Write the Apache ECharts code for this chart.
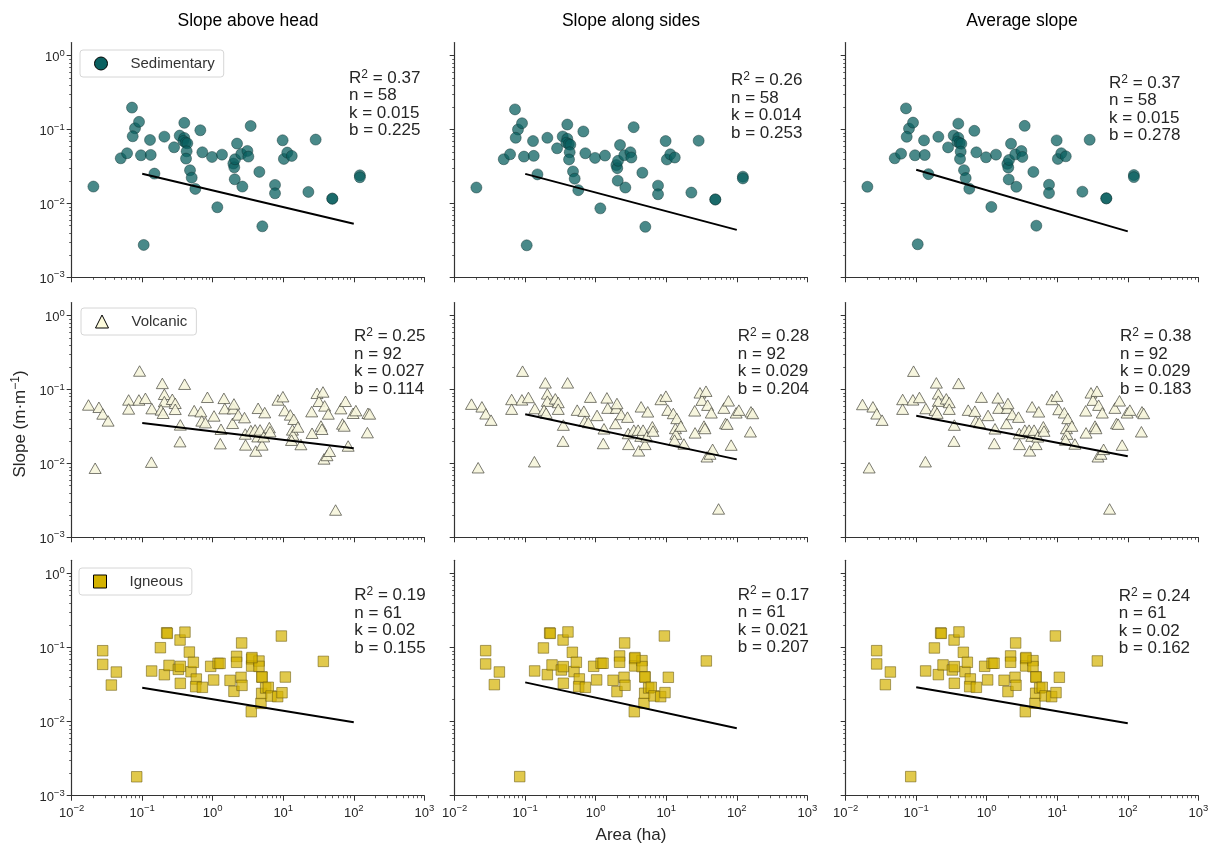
<!DOCTYPE html>
<html><head><meta charset="utf-8">
<script src="https://cdn.jsdelivr.net/npm/echarts@6/dist/echarts.min.js"></script>
<style>html,body{margin:0;padding:0;background:#fff}#c{width:1219px;height:845px}</style>
</head><body><div id="c"></div>
<script>
// ---------------- data ----------------
const columnTitles = ['Slope above head', 'Slope along sides', 'Average slope'];
const groupNames = ['Sedimentary', 'Volcanic', 'Igneous'];
const xTickValues = [0.01, 0.1, 1, 10, 100, 1000];
const yTickValues = [0.001, 0.01, 0.1, 1];
const xAxisTitle = 'Area (ha)';
const yAxisTitleParts = ['Slope (m\u00b7m', '\u22121', ')'];

const sedArea = [0.0203,0.0496,0.061,0.0716,0.079,0.0733,0.0901,0.096,0.105,0.129,0.132,0.149,0.206,0.283,0.340,0.395,0.395,0.383,0.413,0.436,0.427,0.418,0.476,0.503,0.566,0.667,0.712,0.977,1.162,1.353,1.96,2.02,2.07,2.05,2.21,2.63,2.54,3.10,3.20,3.45,4.58,5.05,7.64,7.64,9.80,10.2,11.4,13.2,22.7,28.8,49.6,49.6,122,122];
const sedHead = [0.0169,0.0408,0.0477,0.198,0.104,0.081,0.127,0.0448,0.00274,0.0722,0.0453,0.0253,0.080,0.0575,0.0827,0.123,0.0769,0.070,0.0665,0.0651,0.0507,0.0404,0.0281,0.0223,0.0157,0.0977,0.0492,0.0425,0.00887,0.0457,0.0346,0.0308,0.0396,0.0212,0.0645,0.0169,0.0467,0.0513,0.0430,0.1117,0.0267,0.0049,0.0178,0.0137,0.0715,0.040,0.0487,0.0439,0.0143,0.073,0.0116,0.0116,0.024,0.0226];
const sedSides = [0.0164,0.0396,0.0462,0.187,0.100,0.0773,0.1216,0.0430,0.00271,0.0698,0.0440,0.0247,0.0773,0.0557,0.0806,0.1167,0.075,0.0663,0.0636,0.0623,0.0492,0.0393,0.0271,0.0216,0.0151,0.094,0.0477,0.0413,0.00857,0.0444,0.033,0.030,0.0377,0.0203,0.0617,0.0164,0.0449,0.0492,0.0418,0.1075,0.026,0.00482,0.0174,0.0133,0.0698,0.0393,0.0462,0.0418,0.014,0.0705,0.0113,0.0113,0.023,0.0218];
const sedAvg = [0.0168,0.0408,0.0471,0.193,0.103,0.0797,0.124,0.0448,0.0028,0.0712,0.0452,0.0249,0.0797,0.0573,0.083,0.120,0.0773,0.0683,0.0656,0.0642,0.0501,0.040,0.0282,0.022,0.0158,0.096,0.0491,0.0421,0.00897,0.0457,0.0343,0.0306,0.0387,0.0211,0.0642,0.0168,0.0461,0.0512,0.0425,0.112,0.0267,0.00499,0.0179,0.0138,0.0712,0.040,0.0477,0.0434,0.0144,0.0726,0.0117,0.0117,0.0242,0.0227];

const volArea = [0.0173,0.0243,0.0276,0.0328,0.0215,0.0642,0.0642,0.0917,0.0897,0.111,0.137,0.135,0.193,0.206,0.206,0.185,0.198,0.267,0.294,0.294,0.347,0.343,0.399,0.546,0.678,0.700,0.788,0.841,1.044,1.31,1.28,1.44,1.48,1.91,1.96,2.0,2.30,2.82,2.89,2.92,3.47,3.99,4.40,4.35,4.69,4.07,5.01,5.28,5.46,6.35,6.49,8.41,9.89,10.5,12.6,13.5,13.7,14.1,13.1,16.1,17.8,25.3,25.6,30.1,32.1,34.3,35.4,36.6,38.6,37.8,41.7,43.5,45.4,55.2,65.6,69.2,73.1,76.3,83.2,97.9,107,156,159,168];
const volHead = [0.0618,0.0575,0.0467,0.0376,0.0086,0.0722,0.0546,0.178,0.0722,0.076,0.0551,0.0104,0.121,0.0862,0.0686,0.053,0.0477,0.0738,0.0651,0.054,0.0332,0.0197,0.118,0.0518,0.0502,0.0376,0.0356,0.0785,0.0439,0.029,0.0185,0.076,0.0551,0.0349,0.0551,0.0638,0.0453,0.0417,0.025,0.0178,0.0278,0.0284,0.0557,0.023,0.0284,0.0147,0.0178,0.023,0.0487,0.0305,0.0269,0.0722,0.080,0.0518,0.0453,0.0284,0.0243,0.0396,0.0206,0.0311,0.018,0.0502,0.0256,0.0889,0.0693,0.0321,0.029,0.0927,0.060,0.0115,0.0128,0.0467,0.0146,0.00234,0.0551,0.0342,0.0321,0.0693,0.0172,0.0477,0.0518,0.0261,0.0477,0.0467];
const volSides = [0.0634,0.0583,0.0469,0.0385,0.00874,0.0733,0.0542,0.177,0.0725,0.078,0.0553,0.01054,0.123,0.0874,0.0696,0.0526,0.0479,0.0748,0.0668,0.0542,0.033,0.02,0.123,0.0526,0.0509,0.0373,0.0358,0.0788,0.0446,0.0294,0.0186,0.0771,0.056,0.0347,0.056,0.0647,0.0459,0.0423,0.0254,0.0181,0.0282,0.0282,0.0583,0.0234,0.0282,0.0148,0.0181,0.0229,0.0499,0.0313,0.0274,0.0733,0.0813,0.0526,0.0474,0.0297,0.0249,0.0406,0.0207,0.032,0.0183,0.0515,0.0259,0.0902,0.0718,0.032,0.0297,0.0949,0.0614,0.0123,0.0134,0.0484,0.0155,0.00242,0.056,0.0347,0.034,0.0703,0.0177,0.0484,0.0526,0.0268,0.0499,0.0474];
const volAvg = [0.0627,0.0583,0.0469,0.0385,0.00874,0.0733,0.0542,0.177,0.0725,0.078,0.0553,0.01054,0.123,0.0874,0.0696,0.0526,0.0479,0.0748,0.0668,0.0542,0.033,0.02,0.121,0.0526,0.0509,0.0373,0.0358,0.0788,0.0446,0.0294,0.0186,0.0771,0.056,0.0347,0.056,0.0647,0.0459,0.0423,0.0254,0.0181,0.0282,0.0282,0.0583,0.0234,0.0282,0.0148,0.0181,0.0229,0.0499,0.0313,0.0274,0.0733,0.0813,0.0537,0.0484,0.0297,0.0249,0.0406,0.0207,0.032,0.0183,0.0515,0.0259,0.0902,0.0718,0.032,0.0297,0.0949,0.0614,0.0123,0.0134,0.0484,0.0155,0.00242,0.056,0.0347,0.034,0.0703,0.0177,0.0484,0.0526,0.0268,0.0499,0.0474];

const ignArea = [0.0275,0.0275,0.0365,0.0430,0.0836,0.136,0.181,0.206,0.222,0.227,0.240,0.344,0.325,0.347,0.347,0.404,0.466,0.492,0.531,0.585,0.573,0.713,0.935,1.03,1.19,1.27,1.76,2.0,2.18,2.18,2.52,2.60,2.57,3.56,3.56,3.52,4.53,4.53,4.99,4.99,4.83,4.94,5.63,6.13,6.70,8.33,9.6,9.4,10.7,37.0,3.6];
const ignHead = [0.0904,0.0591,0.0311,0.0466,0.0018,0.0481,0.0993,0.0429,0.158,0.155,0.0573,0.126,0.0506,0.0556,0.0328,0.161,0.0867,0.0471,0.063,0.0375,0.0296,0.029,0.0556,0.0364,0.061,0.061,0.036,0.0256,0.0758,0.063,0.0395,0.0308,0.115,0.0698,0.0561,0.0136,0.0656,0.0556,0.0399,0.0399,0.0176,0.024,0.0284,0.029,0.0221,0.0217,0.0245,0.1426,0.0399,0.0649,0.073];
const ignSides = [0.0906,0.0599,0.0315,0.0467,0.00181,0.0482,0.0985,0.043,0.157,0.155,0.0581,0.126,0.0497,0.0552,0.0329,0.162,0.0861,0.0472,0.0631,0.0376,0.0296,0.029,0.0557,0.0365,0.0612,0.0612,0.0361,0.0254,0.0768,0.0631,0.0396,0.0309,0.115,0.0707,0.0563,0.0136,0.0664,0.0552,0.040,0.040,0.0177,0.0241,0.0284,0.029,0.0222,0.0217,0.0246,0.1429,0.0396,0.0658,0.073];
const ignAvg = [0.0906,0.0599,0.0315,0.0467,0.00181,0.0482,0.0985,0.043,0.157,0.155,0.0581,0.126,0.0497,0.0552,0.0329,0.162,0.0861,0.0472,0.0631,0.0376,0.0296,0.029,0.0557,0.0365,0.0612,0.0612,0.0361,0.0254,0.0768,0.0631,0.0396,0.0309,0.115,0.0707,0.0563,0.0136,0.0664,0.0552,0.040,0.040,0.0177,0.0241,0.0284,0.029,0.0222,0.0217,0.0246,0.1429,0.0396,0.0658,0.073];

// fitted power-law lines (panel order: row by row)
const fitArea = [0.1, 100];
const fitStart = [0.0252,0.0251,0.0285, 0.0351,0.0463,0.0442, 0.0286,0.0338,0.029];
const fitEnd   = [0.00532,0.00438,0.00418, 0.0160,0.01134,0.01249, 0.0098,0.00811,0.00949];
const statR2 = ['0.37','0.26','0.37','0.25','0.28','0.38','0.19','0.17','0.24'];
const statN  = ['58','58','58','92','92','92','61','61','61'];
const statK  = ['0.015','0.014','0.015','0.027','0.029','0.029','0.02','0.021','0.02'];
const statB  = ['0.225','0.253','0.278','0.114','0.204','0.183','0.155','0.207','0.162'];

// ---------------- layout / style ----------------
const FONT = '"Liberation Sans", Arial, sans-serif';
const TXT = '#262626';
const AX = '#333333';
const colLeft = [71.7, 454.7, 845.7];
const plotWidth = 352.6;
const rowTop = [42.6, 302.6, 560.3];
const rowHeight = [234.7, 234.7, 235.4];
const yMax = 1.5;
const annoPos = [[349,78.3],[731,80.7],[1109,83.3],[354,336.7],[737.7,336.7],[1120,336.7],[354.3,595.7],[737.7,595],[1118.7,596.3]];
const annoStep = 17.5;

const groupData = [
  {area: sedArea, cols: [sedHead, sedSides, sedAvg]},
  {area: volArea, cols: [volHead, volSides, volAvg]},
  {area: ignArea, cols: [ignHead, ignSides, ignAvg]}
];
const groupStyle = [
  {symbol: 'circle', size: 11, item: {color: '#0a6060', opacity: 0.74, borderColor: '#103030', borderWidth: 0.6},
   legendIcon: 'circle', legendItem: {color: '#0a6060', borderColor: '#000', borderWidth: 1, opacity: 1}, legendPos: [80, 50]},
  {symbol: 'triangle', size: [12, 10.5], item: {color: '#f6f5dc', opacity: 0.9, borderColor: '#4a4a40', borderWidth: 0.8},
   legendIcon: 'triangle', legendItem: {color: '#fdfbdc', borderColor: '#000', borderWidth: 1, opacity: 1}, legendPos: [81, 308]},
  {symbol: 'rect', size: 10.5, item: {color: '#d4b200', opacity: 0.7, borderColor: '#6a5a10', borderWidth: 0.8},
   legendIcon: 'rect', legendItem: {color: '#d4b200', borderColor: '#000', borderWidth: 1, opacity: 1}, legendPos: [79, 568]}
];

function range(a, b) { const r = []; for (let i = a; i <= b; i++) r.push(i); return r; }
const xMinor = [], yMinor = [];
range(-2, 2).forEach(e => range(2, 9).forEach(m => xMinor.push(+(m * Math.pow(10, e)).toPrecision(3))));
range(-3, -1).forEach(e => range(2, 9).forEach(m => yMinor.push(+(m * Math.pow(10, e)).toPrecision(3))));

function powLabel(v) {
  const e = Math.round(Math.log10(v));
  return '{b|10}{s|' + (e < 0 ? '\u2212' + (-e) : String(e)) + '}';
}
const labelRich = {
  b: {fontSize: 13, lineHeight: 15, padding: [4, 0, 0, 0], color: TXT, fontFamily: FONT},
  s: {fontSize: 9.5, lineHeight: 10, verticalAlign: 'top', color: TXT, fontFamily: FONT}
};
const annoRich = {
  r: {fontSize: 17, lineHeight: 20, fill: TXT, color: TXT, fontFamily: FONT},
  s: {fontSize: 12, lineHeight: 12, verticalAlign: 'top', fill: TXT, color: TXT, fontFamily: FONT}
};
const titleRich = {
  t: {fontSize: 17, lineHeight: 20, fill: TXT, color: TXT, fontFamily: FONT},
  s: {fontSize: 12, lineHeight: 12, verticalAlign: 'top', fill: TXT, color: TXT, fontFamily: FONT}
};

const grids = [], xAxes = [], yAxes = [], series = [], legends = [], graphics = [];
for (let i = 0; i < 9; i++) {
  const r = Math.floor(i / 3), c = i % 3;
  grids.push({left: colLeft[c], top: rowTop[r], width: plotWidth, height: rowHeight[r], containLabel: false, outerBoundsMode: 'none'});
}
for (let i = 0; i < 9; i++) {
  const r = Math.floor(i / 3), c = i % 3;
  xAxes.push({type: 'log', logBase: 10, gridIndex: i, min: 0.01, max: 1000, position: 'bottom',
    axisLine: {show: true, onZero: false, lineStyle: {color: AX, width: 1.2}},
    axisTick: {show: true, length: 5, customValues: xTickValues, lineStyle: {color: AX, width: 1}},
    axisLabel: {show: r === 2, customValues: xTickValues, formatter: powLabel, margin: 8, rich: labelRich},
    splitLine: {show: false}, minorTick: {show: false}});
  yAxes.push({type: 'log', logBase: 10, gridIndex: i, min: 0.001, max: yMax, position: 'left',
    axisLine: {show: true, onZero: false, lineStyle: {color: AX, width: 1.2}},
    axisTick: {show: true, length: 5, customValues: yTickValues, lineStyle: {color: AX, width: 1}},
    axisLabel: {show: c === 0, customValues: yTickValues, formatter: powLabel, margin: 7, rich: labelRich},
    splitLine: {show: false}, minorTick: {show: false}});
}
for (let i = 0; i < 9; i++) {
  xAxes.push({type: 'log', logBase: 10, gridIndex: i, min: 0.01, max: 1000, position: 'bottom',
    axisLine: {show: false}, axisLabel: {show: false}, splitLine: {show: false},
    axisTick: {show: true, length: 2.5, customValues: xMinor, lineStyle: {color: AX, width: 0.8}}});
  yAxes.push({type: 'log', logBase: 10, gridIndex: i, min: 0.001, max: yMax, position: 'left',
    axisLine: {show: false}, axisLabel: {show: false}, splitLine: {show: false},
    axisTick: {show: true, length: 2.5, customValues: yMinor, lineStyle: {color: AX, width: 0.8}}});
}

for (let g = 0; g < 3; g++) {
  const st = groupStyle[g];
  for (let c = 0; c < 3; c++) {
    const i = g * 3 + c;
    const vals = groupData[g].cols[c];
    series.push({
      type: 'scatter', name: c === 0 ? groupNames[g] : groupNames[g] + ' ' + columnTitles[c],
      xAxisIndex: i, yAxisIndex: i, symbol: st.symbol, symbolSize: st.size,
      itemStyle: st.item, z: 2, silent: true,
      data: groupData[g].area.map((a, k) => [a, vals[k]])
    });
    series.push({
      type: 'line', xAxisIndex: i, yAxisIndex: i, symbol: 'none', silent: true, z: 3,
      lineStyle: {color: '#000', width: 2},
      data: [[fitArea[0], fitStart[i]], [fitArea[1], fitEnd[i]]]
    });
  }
  legends.push({
    data: [groupNames[g]], icon: st.legendIcon, left: st.legendPos[0], top: st.legendPos[1],
    orient: 'horizontal', itemWidth: 13, itemHeight: 13, selectedMode: false,
    padding: [6, 9, 6, 14], backgroundColor: '#fff', borderColor: '#d6d6d6', borderWidth: 1, borderRadius: 3,
    itemStyle: st.legendItem,
    textStyle: {fontSize: 15, color: '#333', fontFamily: FONT, padding: [0, 0, 0, 18]}
  });
}

for (let c = 0; c < 3; c++) {
  graphics.push({type: 'text', x: colLeft[c] + plotWidth / 2, y: 21, silent: true,
    style: {text: columnTitles[c], align: 'center', verticalAlign: 'middle', fill: '#000', font: '17.5px ' + FONT}});
}
for (let i = 0; i < 9; i++) {
  const lines = ['{r|R}{s|2}{r| = ' + statR2[i] + '}', '{r|n = ' + statN[i] + '}', '{r|k = ' + statK[i] + '}', '{r|b = ' + statB[i] + '}'];
  lines.forEach((t, j) => graphics.push({type: 'text', x: annoPos[i][0], y: annoPos[i][1] + j * annoStep, silent: true,
    style: {text: t, rich: annoRich, align: 'left', verticalAlign: 'middle', fill: TXT, font: '17px ' + FONT}}));
}
graphics.push({type: 'text', x: 20, y: 424, rotation: Math.PI / 2, silent: true,
  style: {text: '{t|' + yAxisTitleParts[0] + '}{s|' + yAxisTitleParts[1] + '}{t|' + yAxisTitleParts[2] + '}', rich: titleRich,
    align: 'center', verticalAlign: 'middle', fill: TXT, font: '17px ' + FONT}});
graphics.push({type: 'text', x: colLeft[1] + plotWidth / 2, y: 835, silent: true,
  style: {text: xAxisTitle, align: 'center', verticalAlign: 'middle', fill: TXT, font: '17px ' + FONT}});

const chart = echarts.init(document.getElementById('c'), null, {renderer: 'canvas'});
chart.setOption({
  backgroundColor: '#fff', animation: false,
  grid: grids, xAxis: xAxes, yAxis: yAxes, series: series, legend: legends,
  graphic: {elements: graphics}
});
</script></body></html>
